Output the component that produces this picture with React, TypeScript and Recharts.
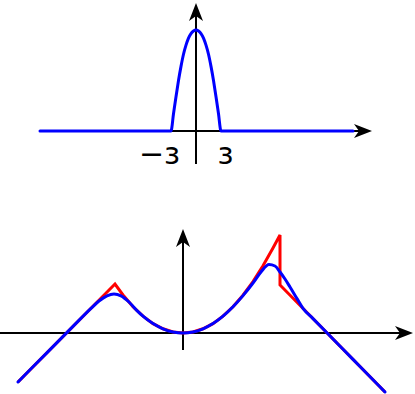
import React from 'react';
import { ComposedChart, Line, Scatter, XAxis, YAxis } from 'recharts';

// ---- Top chart (mollifier bump) ----
const topAxisH = [{ x: -6.24, y: 0 }, { x: 6.52, y: 0 }];
const topAxisV = [{ x: 0, y: -0.327 }, { x: 0, y: 1.139 }];
const topArrows = [
  { x: 7.04, y: 0, dir: 'right' },
  { x: 0, y: 1.267, dir: 'up' },
];
const bumpX = [-6.24, -1, -0.9, -0.8, -0.7, -0.6, -0.5, -0.4, -0.3, -0.2, -0.1, 0, 0.1, 0.2, 0.3, 0.4, 0.5, 0.6, 0.7, 0.8, 0.9, 1, 6.28];
const bumpY = [0, 0, 0.17, 0.34, 0.5, 0.64, 0.76, 0.85, 0.92, 0.965, 0.99, 1, 0.99, 0.965, 0.92, 0.85, 0.76, 0.64, 0.5, 0.34, 0.17, 0, 0];
const topLabels = [
  { x: -1.46, y: -0.327, text: '\u2212\u025C' },
  { x: 1.18, y: -0.327, text: '\u025C' },
];

// ---- Bottom chart (function and its smoothing) ----
const botAxisH = [{ x: -9.15, y: 0 }, { x: 10.9, y: 0 }];
const botAxisV = [{ x: 0, y: -0.85 }, { x: 0, y: 4.6 }];
const botArrows = [
  { x: 11.5, y: 0, dir: 'right' },
  { x: 0, y: 5.2, dir: 'up' },
];
const redX = [-8.25, -3.4, -3, -2.5, -2, -1.5, -1, -0.5, 0, 0.5, 1, 1.5, 2, 2.5, 3, 3.5, 4, 4.5, 4.85, 4.85, 10.1];
const redY = [-2.45, 2.45, 1.9, 1.31, 0.84, 0.47, 0.21, 0.05, 0, 0.05, 0.21, 0.47, 0.84, 1.31, 1.89, 2.57, 3.36, 4.25, 4.9, 2.4, -2.95];
const blueX = [-8.25, -7.5, -6.5, -5.5, -4.6, -4.2, -3.8, -3.45, -3.1, -2.7, -2.3, -2, -1.5, -1, -0.5, 0, 0.5, 1, 1.5, 2, 2.5, 3, 3.5, 3.9, 4.3, 4.6, 4.85, 5.1, 5.35, 5.7, 6, 6.5, 7.5, 8.5, 9.5, 10.1];
const blueY = [-2.45, -1.69, -0.68, 0.33, 1.23, 1.6, 1.86, 1.95, 1.86, 1.55, 1.12, 0.84, 0.47, 0.21, 0.05, 0, 0.05, 0.21, 0.47, 0.84, 1.31, 1.87, 2.5, 3.05, 3.42, 3.35, 3.05, 2.7, 2.3, 1.72, 1.23, 0.72, -0.3, -1.32, -2.34, -2.95];

const toPts = (xs: number[], ys: number[]) => xs.map((x, i) => ({ x, y: ys[i] }));

const Arrow = (props: any) => {
  const { cx, cy, payload } = props;
  const L = 18;
  const W = 7;
  const N = 13;
  let d = '';
  if (payload.dir === 'right') {
    d = `M${cx},${cy} L${cx - L},${cy - W} L${cx - N},${cy} L${cx - L},${cy + W} Z`;
  } else {
    d = `M${cx},${cy} L${cx - W},${cy + L} L${cx},${cy + N} L${cx + W},${cy + L} Z`;
  }
  return <path d={d} fill="#000" stroke="none" />;
};

const Label = (props: any) => {
  const { cx, cy, payload } = props;
  return (
    <text x={cx} y={cy} textAnchor="middle" fontFamily="DejaVu Sans" fontSize={30} fill="#000">
      {payload.text}
    </text>
  );
};

export default function App() {
  return (
    <div style={{ position: 'absolute', left: 0, top: 0, width: 415, height: 394, background: '#fff' }}>
      <div style={{ position: 'absolute', left: 0, top: 0 }}>
        <ComposedChart width={415} height={190} margin={{ top: 0, right: 0, bottom: 0, left: 0 }}>
          <XAxis type="number" dataKey="x" domain={[-7.84, 8.76]} hide allowDataOverflow />
          <YAxis type="number" dataKey="y" domain={[-0.584, 1.297]} hide allowDataOverflow />
          <Line data={topAxisH} dataKey="y" type="linear" stroke="#000" strokeWidth={2} dot={false} activeDot={false} isAnimationActive={false} />
          <Line data={topAxisV} dataKey="y" type="linear" stroke="#000" strokeWidth={2} dot={false} activeDot={false} isAnimationActive={false} />
          <Line data={toPts(bumpX, bumpY)} dataKey="y" type="monotone" stroke="#0000ff" strokeWidth={3} dot={false} activeDot={false} isAnimationActive={false} strokeLinecap="round" />
          <Scatter data={topArrows} dataKey="y" shape={<Arrow />} isAnimationActive={false} />
          <Scatter data={topLabels} dataKey="y" shape={<Label />} isAnimationActive={false} />
        </ComposedChart>
      </div>
      <div style={{ position: 'absolute', left: 0, top: 200 }}>
        <ComposedChart width={415} height={194} margin={{ top: 0, right: 0, bottom: 0, left: 0 }}>
          <XAxis type="number" dataKey="x" domain={[-9.15, 11.6]} hide allowDataOverflow />
          <YAxis type="number" dataKey="y" domain={[-3.05, 6.65]} hide allowDataOverflow />
          <Line data={botAxisH} dataKey="y" type="linear" stroke="#000" strokeWidth={2} dot={false} activeDot={false} isAnimationActive={false} />
          <Line data={botAxisV} dataKey="y" type="linear" stroke="#000" strokeWidth={2} dot={false} activeDot={false} isAnimationActive={false} />
          <Line data={toPts(redX, redY)} dataKey="y" type="linear" stroke="#ff0000" strokeWidth={3} dot={false} activeDot={false} isAnimationActive={false} />
          <Line data={toPts(blueX, blueY)} dataKey="y" type="monotone" stroke="#0000ff" strokeWidth={3} dot={false} activeDot={false} isAnimationActive={false} strokeLinecap="round" />
          <Scatter data={botArrows} dataKey="y" shape={<Arrow />} isAnimationActive={false} />
        </ComposedChart>
      </div>
    </div>
  );
}
